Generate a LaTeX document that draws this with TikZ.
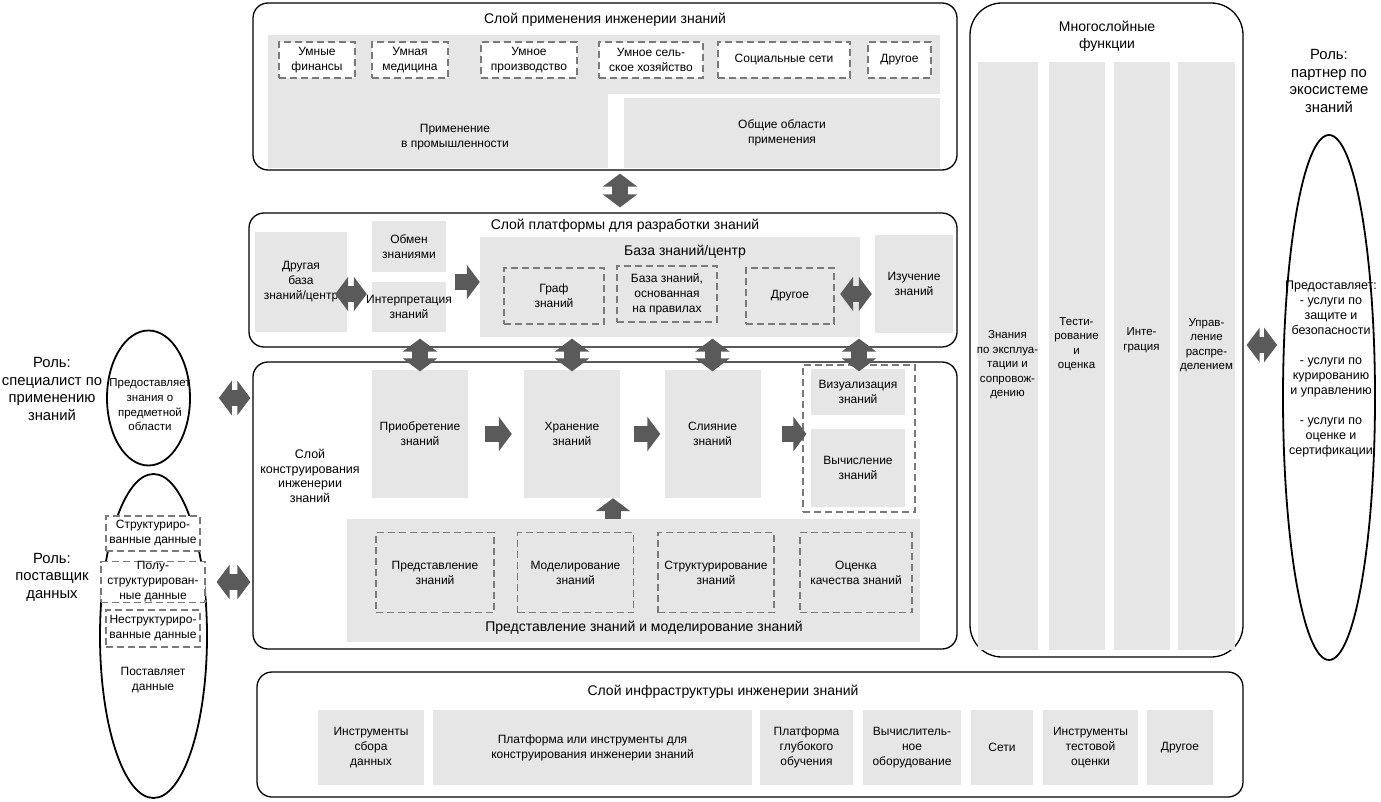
\documentclass[tikz,border=0pt]{standalone}
\usepackage{fontspec}
\setmainfont{Liberation Sans}
\usetikzlibrary{arrows.meta,shapes.geometric}
\newcommand{\boxfont}{\fontsize{12}{15}\selectfont}
\newcommand{\colfont}{\fontsize{11.5}{14.5}\selectfont}
\newcommand{\titlefont}{\fontsize{14}{17}\selectfont}
\newcommand{\rolefont}{\fontsize{14.8}{17.5}\selectfont}
\definecolor{boxgray}{HTML}{E6E6E6}
\definecolor{dashgray}{HTML}{7A7A7A}
\definecolor{arrowgray}{HTML}{5A5A5A}
\tikzset{
  layer/.style={draw, line width=1.3pt, rounded corners=15pt, inner sep=0pt},
  graybox/.style={fill=boxgray, align=center, font=\boxfont, inner sep=0pt},
  dashbox/.style={draw=dashgray, line width=1.2pt, dash pattern=on 7pt off 4pt, align=center, font=\boxfont, inner sep=0pt},
  txt/.style={align=center, font=\boxfont, inner sep=0pt},
  role/.style={align=center, font=\rolefont, inner sep=0pt},
  fatarrow/.style={draw=arrowgray, line width=16pt, -{Triangle[width=34pt,length=13pt]}},
  fatdouble/.style={draw=arrowgray, line width=16pt, {Triangle[width=34pt,length=13pt]}-{Triangle[width=34pt,length=13pt]}},
}

\begin{document}
\begin{tikzpicture}[x=1pt,y=-1pt]
\useasboundingbox (0,0) rectangle (1381,802);

        % application layer
        \node[layer, minimum width=704, minimum height=167] (applayer) at (605,86.5) {};
        \node[txt, font=\titlefont] (apptitle) at (605,20) {Слой применения инженерии знаний};
        \fill[boxgray] (268,35) rectangle (940,94);
        \node[graybox, minimum width=340, minimum height=74, label={[txt, xshift=17pt, yshift=-6pt]center:Применение\\в промышленности}] (industry) at (438,131) {};
        \node[graybox, minimum width=316, minimum height=70] (general) at (782,133) {Общие области\\применения};
        \node[dashbox, fill=white, minimum width=76, minimum height=36] (fin) at (317,60) {Умные\\финансы};
        \node[dashbox, fill=white, minimum width=76, minimum height=36] (med) at (410,60) {Умная\\медицина};
        \node[dashbox, fill=white, minimum width=96, minimum height=36] (prod) at (529,60) {Умное\\производство};
        \node[dashbox, fill=white, minimum width=104, minimum height=36] (agri) at (651,60) {Умное сель-\\ское хозяйство};
        \node[dashbox, fill=white, minimum width=132, minimum height=36] (social) at (784,60) {Социальные сети};
        \node[dashbox, fill=white, minimum width=63, minimum height=36] (appother) at (899.5,60) {Другое};

        % platform layer
        \node[layer, minimum width=708, minimum height=134] (platlayer) at (603,280) {};
        \node[txt, font=\titlefont] (plattitle) at (625,226) {Слой платформы для разработки знаний};
        \node[graybox, minimum width=92, minimum height=100] (otherbase) at (301,282) {Другая\\база\\знаний/центр};
        \node[graybox, minimum width=74, minimum height=51] (exchange) at (409,247) {Обмен\\знаниями};
        \node[graybox, minimum width=74, minimum height=50, label={[txt]center:Интерпретация\\знаний}] (interp) at (409,307) {};
        \node[graybox, minimum width=380, minimum height=100] (kbase) at (670,287) {};
        \node[txt, font=\titlefont] (kbtitle) at (685,252) {База знаний/центр};
        \node[dashbox, minimum width=100, minimum height=56] (graph) at (554,296) {Граф\\знаний};
        \node[dashbox, minimum width=100, minimum height=56] (rules) at (667,294) {База знаний,\\основанная\\на правилах};
        \node[dashbox, minimum width=88, minimum height=56] (kbother) at (790,296) {Другое};
        \node[graybox, minimum width=78, minimum height=97] (learning) at (914,284) {Изучение\\знаний};

        % construction layer
        \node[layer, minimum width=704, minimum height=287] (conslayer) at (605,505.5) {};
        \node[txt, font=\fontsize{12.5}{14.7}\selectfont] (constitle) at (310,476) {Слой\\конструирования\\инженерии\\знаний};
        \node[graybox, minimum width=96, minimum height=128] (acquire) at (420,434) {Приобретение\\знаний};
        \node[graybox, minimum width=96, minimum height=128] (store) at (572,434) {Хранение\\знаний};
        \node[graybox, minimum width=96, minimum height=128] (fuse) at (712.5,434) {Слияние\\знаний};
        \node[dashbox, minimum width=112, minimum height=147] (output) at (859,438.5) {};
        \node[graybox, minimum width=94, minimum height=46] (visual) at (858,392) {Визуализация\\знаний};
        \node[graybox, minimum width=94, minimum height=78] (compute) at (858,468) {Вычисление\\знаний};
        \node[graybox, minimum width=573, minimum height=123] (reprbg) at (633.5,580.5) {};
        \node[txt, font=\titlefont] (reprtitle) at (644,628) {Представление знаний и моделирование знаний};
        \node[dashbox, minimum width=118, minimum height=80] (represent) at (435,572.5) {Представление\\знаний};
        \node[dashbox, minimum width=116, minimum height=80] (model) at (575.5,572.5) {Моделирование\\знаний};
        \node[dashbox, minimum width=116, minimum height=80] (structure) at (716,572.5) {Структурирование\\знаний};
        \node[dashbox, minimum width=112, minimum height=80] (quality) at (856,572.5) {Оценка\\качества знаний};

        % infrastructure layer
        \node[layer, minimum width=986, minimum height=125] (infralayer) at (750,734.5) {};
        \node[txt, font=\titlefont] (infratitle) at (723,692) {Слой инфраструктуры инженерии знаний};
        \node[graybox, minimum width=106, minimum height=75] (collect) at (371,747.5) {Инструменты\\сбора\\данных};
        \node[graybox, minimum width=319, minimum height=75] (platform) at (592.5,747.5) {Платформа или инструменты для\\конструирования инженерии знаний};
        \node[graybox, minimum width=93, minimum height=75] (deep) at (806.5,747.5) {Платформа\\глубокого\\обучения};
        \node[graybox, minimum width=98, minimum height=75] (hardware) at (912,747.5) {Вычислитель-\\ное\\оборудование};
        \node[graybox, minimum width=62, minimum height=75] (network) at (1002,747.5) {Сети};
        \node[graybox, minimum width=95, minimum height=75] (testing) at (1090.5,747.5) {Инструменты\\тестовой\\оценки};
        \node[graybox, minimum width=66, minimum height=75] (infraother) at (1180,747.5) {Другое};

        % multilayer functions
        \node[layer, rounded corners=32pt, minimum width=273, minimum height=654] (multilayer) at (1106.5,330) {};
        \node[txt, font=\titlefont] (multititle) at (1107,36) {Многослойные\\функции};
        \node[graybox, minimum width=60, minimum height=588, label={[txt, font=\colfont, yshift=-9pt]center:Знания\\по эксплуа-\\тации и\\сопровож-\\дению}] (operate) at (1007.5,356) {};
        \node[graybox, minimum width=56, minimum height=588, label={[txt, font=\colfont, yshift=12pt]center:Тести-\\рование\\и\\оценка}] (evaluate) at (1076.5,356) {};
        \node[graybox, minimum width=56, minimum height=588, label={[txt, font=\colfont, yshift=16pt]center:Инте-\\грация}] (integrate) at (1141.5,356) {};
        \node[graybox, minimum width=57, minimum height=588, label={[txt, font=\colfont, yshift=11pt]center:Управ-\\ление\\распре-\\делением}] (distribute) at (1206.5,356) {};

        % roles
        \node[role] (expertrole) at (52,389) {Роль:\\специалист по\\применению\\знаний};
        \node[draw, ellipse, line width=1.8pt, minimum width=83, minimum height=135, inner sep=0pt] (expert) at (148.5,398) {};
        \node[txt, font=\fontsize{11.5}{14.7}\selectfont] (experttxt) at (150,405) {Предоставляет\\знания о\\предметной\\области};

        \node[role] (datarole) at (52,577) {Роль:\\поставщик\\данных};
        \node[draw, ellipse, line width=1.8pt, minimum width=107, minimum height=324, inner sep=0pt] (supplier) at (153.5,636) {};
        \node[dashbox, fill=white, minimum width=94, minimum height=35] (structured) at (153,533.5) {Структуриро-\\ванные данные};
        \node[dashbox, fill=white, minimum width=104, minimum height=38] (semistruct) at (153,582) {Полу-\\структурирован-\\ные данные};
        \node[dashbox, fill=white, minimum width=94, minimum height=37] (unstruct) at (153,628.5) {Неструктуриро-\\ванные данные};
        \node[txt] (suppliertxt) at (153,680) {Поставляет\\данные};

        \node[role] (partnerrole) at (1329,81) {Роль:\\партнер по\\экосистеме\\знаний};
        \node[draw, ellipse, line width=1.8pt, minimum width=92, minimum height=525, inner sep=0pt] (partner) at (1329,397.5) {};
        \node[txt, font=\fontsize{12.5}{15}\selectfont] (partnertxt) at (1331,369) {Предоставляет:\\- услуги по\\защите и\\безопасности\\[15pt]- услуги по\\курированию\\и управлению\\[15pt]- услуги по\\оценке и\\сертификации};

        % block arrows
        \coordinate (uplink) at (620,0);
        \draw[fatdouble, shorten <=3pt, shorten >=5pt] (applayer.south -| uplink) -- (platlayer.north -| uplink);
        \draw[fatdouble, shorten >=5pt] ([xshift=-12pt, yshift=-12pt]otherbase.east) -- ([yshift=-12pt]otherbase.east -| exchange.west);
        \draw[fatarrow, shorten <=9pt] ([yshift=5pt]kbase.west -| exchange.east) -- ([yshift=5pt]kbase.west);
        \draw[fatdouble, shorten >=3pt] ([xshift=-20pt, yshift=-10pt]learning.west -| kbase.east) -- ([yshift=-10pt]learning.west);
        \foreach \n in {acquire,store,fuse,output}
          \draw[fatdouble] ([yshift=9pt]platlayer.south -| \n) -- ([yshift=-10pt]conslayer.north -| \n);
        \draw[fatarrow, shorten <=17pt, shorten >=12pt] (acquire.east) -- (acquire.east -| store.west);
        \draw[fatarrow, shorten <=14pt, shorten >=4pt] (store.east) -- (store.east -| fuse.west);
        \draw[fatarrow, shorten <=21pt] (fuse.east) -- ([xshift=4pt]fuse.east -| output.west);
        \draw[fatarrow] ([xshift=41pt]store.south |- reprbg.north) -- ([xshift=41pt]store.south);
        \draw[fatdouble, shorten <=28pt, shorten >=2pt] (expert.east) -- (expert.east -| conslayer.west);
        \draw[fatdouble, shorten <=11pt, shorten >=2pt] (semistruct.east) -- (semistruct.east -| conslayer.west);
        \draw[fatdouble, shorten <=3pt, shorten >=5pt] ([yshift=-15pt]multilayer.east) -- ([yshift=-15pt]multilayer.east -| partner.west);

\end{tikzpicture}
\end{document}
